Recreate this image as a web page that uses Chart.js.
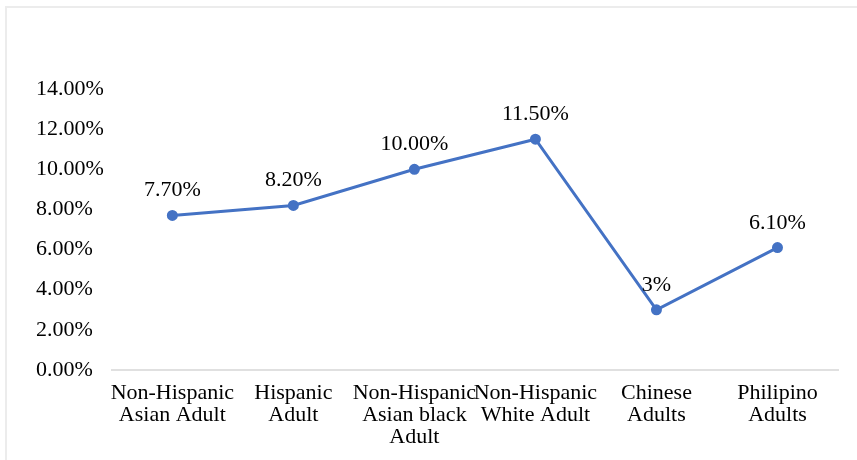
<!DOCTYPE html>
<html>
<head>
<meta charset="utf-8">
<script src="https://cdn.jsdelivr.net/npm/chart.js@4"></script>
<style>
    body { margin: 0; background: #fff; }
    #moldura {
        position: absolute; left: 5px; top: 6px; width: 900px; height: 500px;
        border: 2px solid #ececec; box-sizing: border-box;
    }
    #grafico { position: absolute; left: 0; top: 0; }
</style>
</head>
<body>
<div id="moldura"></div>
<canvas id="grafico" width="857" height="460"></canvas>
<script>
// Categorias (rótulos do eixo x, em várias linhas)
const categorias = [
    ['Non-Hispanic', 'Asian Adult'],
    ['Hispanic', 'Adult'],
    ['Non-Hispanic', 'Asian black', 'Adult'],
    ['Non-Hispanic', 'White Adult'],
    ['Chinese', 'Adults'],
    ['Philipino', 'Adults']
];

// Valores da série (em %)
const valores = [7.7, 8.2, 10.0, 11.5, 3.0, 6.1];

// Rótulos dos pontos
const rotulosPontos = ['7.70%', '8.20%', '10.00%', '11.50%', '3%', '6.10%'];

const fonte = "'Liberation Serif', 'Times New Roman', serif";

// Plugin para escrever os valores acima dos pontos
const rotulosPlugin = {
    id: 'rotulos',
    afterDatasetsDraw(chart) {
        const ctx = chart.ctx;
        const meta = chart.getDatasetMeta(0);
        ctx.save();
        ctx.font = '22px ' + fonte;
        ctx.fillStyle = '#000';
        ctx.textAlign = 'center';
        ctx.textBaseline = 'alphabetic';
        meta.data.forEach((ponto, i) => {
            ctx.fillText(rotulosPontos[i], ponto.x, ponto.y - 19);
        });
        ctx.restore();
    }
};

new Chart(document.getElementById('grafico'), {
    type: 'line',
    data: {
        labels: categorias,
        datasets: [{
            data: valores,
            borderColor: '#4472C4',
            backgroundColor: '#4472C4',
            borderWidth: 3,
            pointRadius: 4,
            pointBackgroundColor: '#4472C4',
            tension: 0
        }]
    },
    options: {
        responsive: false,
        animation: false,
        layout: {
            padding: { top: 89, right: 19, bottom: 0, left: 36 }
        },
        scales: {
            x: {
                offset: true,
                grid: { display: false, drawTicks: false },
                border: { display: true, color: '#e0e0e0', width: 2 },
                ticks: {
                    color: '#000',
                    font: { family: fonte, size: 22, lineHeight: 1.0 },
                    maxRotation: 0,
                    autoSkip: false,
                    padding: 12
                }
            },
            y: {
                min: 0,
                max: 14,
                grid: { display: false, drawTicks: false },
                border: { display: false },
                ticks: {
                    stepSize: 2,
                    color: '#000',
                    crossAlign: 'far',
                    padding: 4,
                    font: { family: fonte, size: 22 },
                    callback: v => v.toFixed(2) + '%'
                }
            }
        },
        plugins: {
            legend: { display: false },
            tooltip: { enabled: false }
        }
    },
    plugins: [rotulosPlugin]
});
</script>
</body>
</html>
